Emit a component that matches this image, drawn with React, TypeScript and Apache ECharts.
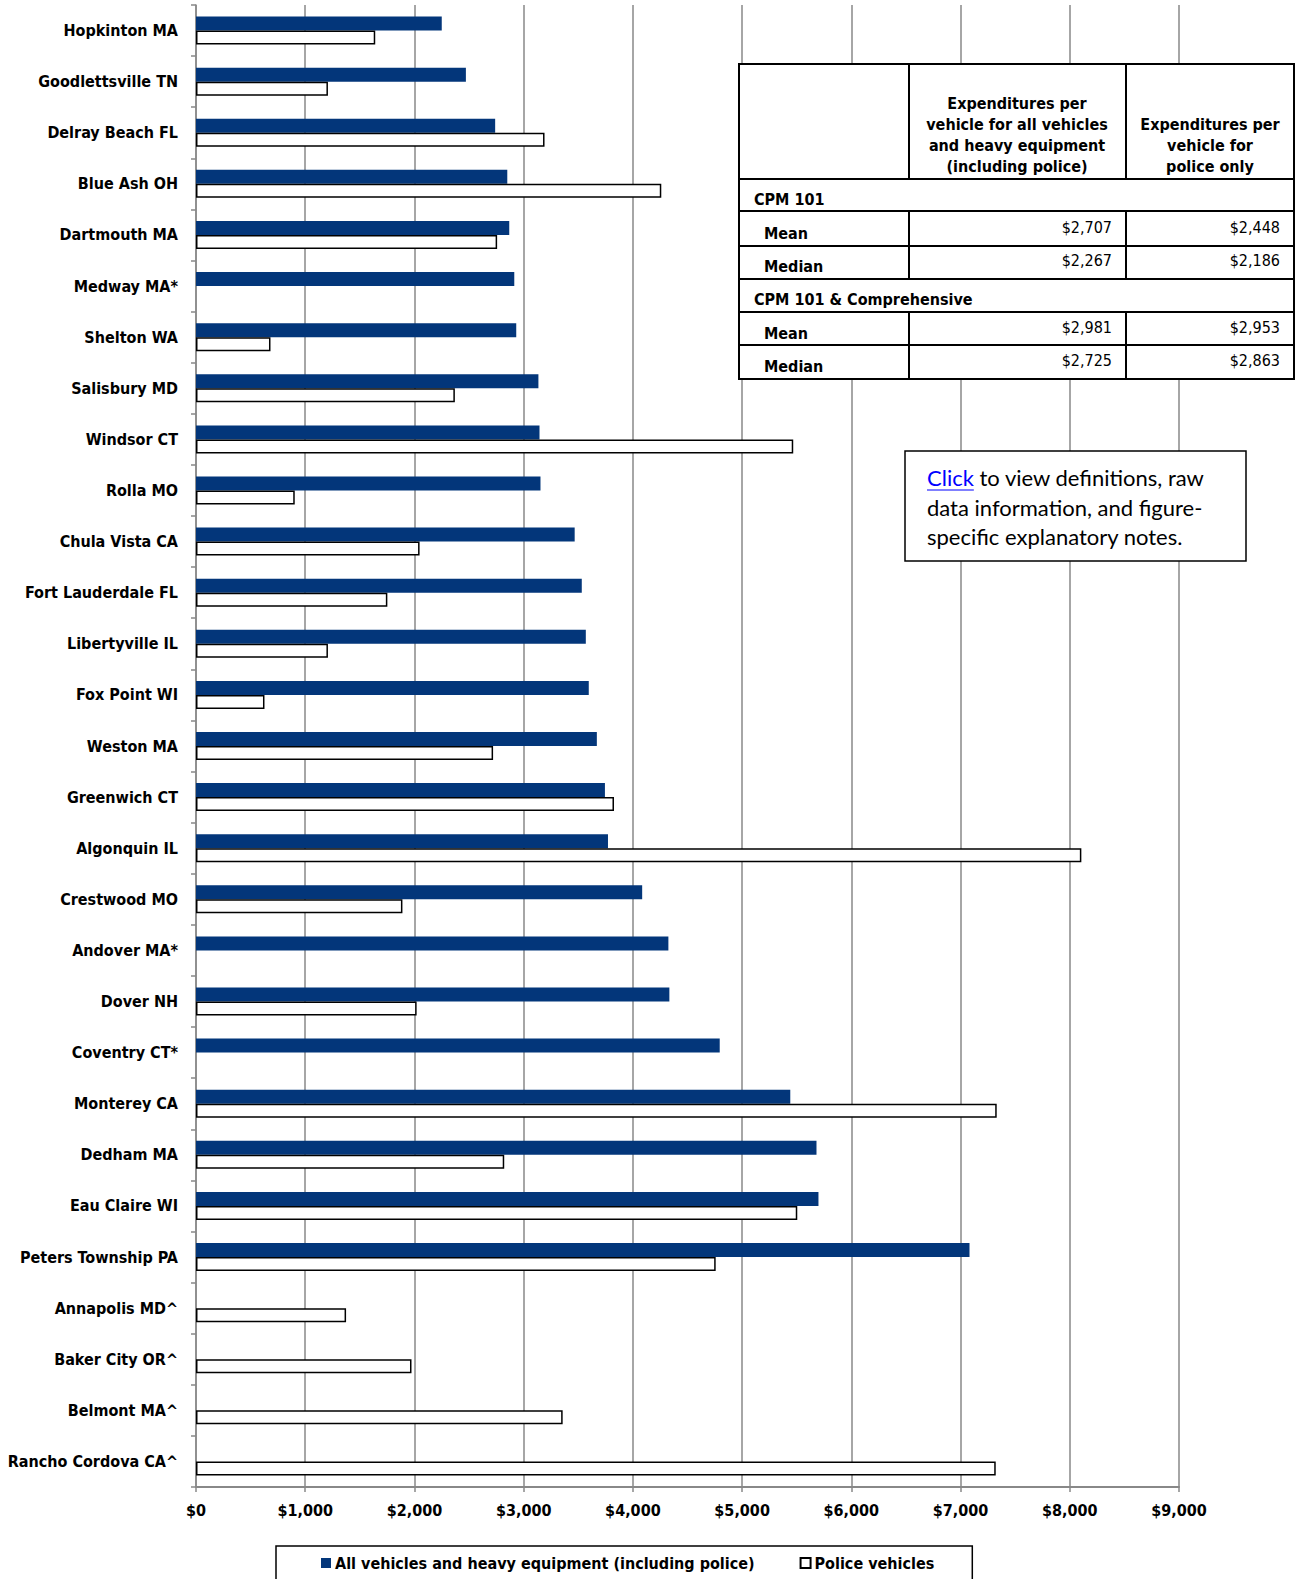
import React, { useEffect, useRef } from "react";
import * as echarts from "echarts";

const categories = [
  "Hopkinton MA", "Goodlettsville TN", "Delray Beach FL", "Blue Ash OH", "Dartmouth MA",
  "Medway MA*", "Shelton WA", "Salisbury MD", "Windsor CT", "Rolla MO",
  "Chula Vista CA", "Fort Lauderdale FL", "Libertyville IL", "Fox Point WI", "Weston MA",
  "Greenwich CT", "Algonquin IL", "Crestwood MO", "Andover MA*", "Dover NH",
  "Coventry CT*", "Monterey CA", "Dedham MA", "Eau Claire WI", "Peters Township PA",
  "Annapolis MD^", "Baker City OR^", "Belmont MA^", "Rancho Cordova CA^",
];

const allVehicles = [
  2250, 2471, 2739, 2850, 2868,
  2914, 2932, 3135, 3145, 3154,
  3467, 3532, 3569, 3596, 3670,
  3744, 3772, 4085, 4325, 4334,
  4795, 5441, 5681, 5699, 7082,
  null, null, null, null,
];

const policeVehicles = [
  1641, 1208, 3191, 4260, 2757,
  null, 682, 2370, 5468, 904,
  2047, 1752, 1208, 627, 2720,
  3827, 8106, 1890, null, 2020,
  null, 7331, 2822, 5505, 4758,
  1374, 1973, 3357, 7322,
];

const xTicks = [0, 1000, 2000, 3000, 4000, 5000, 6000, 7000, 8000, 9000];

const tableHeader1 = ["Expenditures per", "vehicle for all vehicles", "and heavy equipment", "(including police)"];
const tableHeader2 = ["Expenditures per", "vehicle for", "police only"];
const tableSections = ["CPM 101", "CPM 101 & Comprehensive"];
const tableRowLabels = ["Mean", "Median", "Mean", "Median"];
const tableCol1 = ["$2,707", "$2,267", "$2,981", "$2,725"];
const tableCol2 = ["$2,448", "$2,186", "$2,953", "$2,863"];

const noteLines = ["to view definitions, raw", "data information, and figure-", "specific explanatory notes."];

const COND = "'Liberation Sans Narrow', 'DejaVu Sans Condensed', 'Arial Narrow', sans-serif";
const NOTE_FONT = "Lato, 'Open Sans', sans-serif";
const BLUE = "#03367a";

function measure(text: string, font: string): number {
  const c = document.createElement("canvas").getContext("2d");
  if (!c) return text.length * 9;
  c.font = font;
  return c.measureText(text).width;
}

export default function App() {
  const ref = useRef<HTMLDivElement>(null);
  useEffect(() => {
    document.body.style.margin = "0";
    if (!ref.current) return;
    const chart = echarts.init(ref.current, undefined, { renderer: "svg" });

    const cols = [739, 909, 1126, 1294];
    const rows = [64, 179, 211, 246, 279, 312, 345, 379];
    const g: any[] = [];
    g.push({ type: "rect", shape: { x: cols[0], y: rows[0], width: cols[3] - cols[0], height: rows[7] - rows[0] }, style: { fill: "#fff", stroke: "#000", lineWidth: 2 }, z: 10 });
    const line = (x1: number, y1: number, x2: number, y2: number) =>
      g.push({ type: "line", shape: { x1, y1, x2, y2 }, style: { stroke: "#000", lineWidth: 2 }, z: 11 });
    for (let i = 1; i < 7; i++) line(cols[0], rows[i], cols[3], rows[i]);
    [1, 2].forEach((c) => {
      line(cols[c], rows[0], cols[c], rows[1]);
      line(cols[c], rows[2], cols[c], rows[4]);
      line(cols[c], rows[5], cols[c], rows[7]);
    });
    const txt = (text: string, x: number, y: number, align: string, bold: boolean) =>
      g.push({ type: "text", x, y, z: 12, style: { text, fill: "#000", font: `${bold ? "bold " : ""}16px ${COND}`, align, verticalAlign: "middle" } });
    const h1y = [103, 124, 145, 166];
    tableHeader1.forEach((t, i) => txt(t, 1017, h1y[i], "center", true));
    const h2y = [124, 145, 166];
    tableHeader2.forEach((t, i) => txt(t, 1210, h2y[i], "center", true));
    txt(tableSections[0], 754, 199, "left", true);
    txt(tableSections[1], 754, 299, "left", true);
    const labelY = [233, 266, 333, 366];
    const valY = [227, 260, 327, 360];
    tableRowLabels.forEach((t, i) => txt(t, 764, labelY[i], "left", true));
    tableCol1.forEach((t, i) => txt(t, 1112, valY[i], "right", false));
    tableCol2.forEach((t, i) => txt(t, 1280, valY[i], "right", false));

    g.push({ type: "rect", shape: { x: 905, y: 451, width: 341, height: 110 }, style: { fill: "#fff", stroke: "#000", lineWidth: 1.5 }, z: 10 });
    const nf = `22px ${NOTE_FONT}`;
    const clickW = measure("Click", nf);
    g.push({ type: "text", x: 927, y: 477, z: 12, style: { text: "Click", fill: "#0000ff", font: nf, align: "left", verticalAlign: "middle" } });
    g.push({ type: "line", shape: { x1: 927, y1: 490, x2: 927 + clickW, y2: 490 }, style: { stroke: "#0000ff", lineWidth: 1.2 }, z: 12 });
    g.push({ type: "text", x: 927 + clickW + measure(" ", nf), y: 477, z: 12, style: { text: noteLines[0], fill: "#000", font: nf, align: "left", verticalAlign: "middle" } });
    g.push({ type: "text", x: 927, y: 507, z: 12, style: { text: noteLines[1], fill: "#000", font: nf, align: "left", verticalAlign: "middle" } });
    g.push({ type: "text", x: 927, y: 536, z: 12, style: { text: noteLines[2], fill: "#000", font: nf, align: "left", verticalAlign: "middle" } });

    chart.setOption({
      animation: false,
      backgroundColor: "#fff",
      grid: { left: 196, right: 118, top: 5, bottom: 92, containLabel: false, outerBoundsMode: "none" },
      xAxis: {
        type: "value",
        min: xTicks[0],
        max: xTicks[xTicks.length - 1],
        interval: 1000,
        axisLine: { show: true, lineStyle: { color: "#888", width: 2 } },
        axisTick: { show: true, length: 5, lineStyle: { color: "#888", width: 1.5 } },
        splitLine: { show: true, lineStyle: { color: "#888", width: 1.5 } },
        axisLabel: {
          margin: 15,
          color: "#000",
          fontFamily: COND,
          fontWeight: "bold",
          fontSize: 16,
          formatter: (v: number) => "$" + v.toLocaleString("en-US"),
        },
      },
      yAxis: {
        type: "category",
        data: categories,
        inverse: true,
        axisLine: { show: true, lineStyle: { color: "#888", width: 1.5 } },
        axisTick: { show: true, length: 5, lineStyle: { color: "#888", width: 1.5 } },
        axisLabel: { margin: 18, color: "#000", fontFamily: COND, fontWeight: "bold", fontSize: 16 },
      },
      legend: {
        left: 276,
        top: 1546,
        padding: [9, 38, 20, 45],
        itemGap: 45,
        itemWidth: 10,
        itemHeight: 10,
        borderColor: "#000",
        borderWidth: 1.5,
        icon: "rect",
        textStyle: { color: "#000", fontFamily: COND, fontWeight: "bold", fontSize: 16, padding: [0, 0, 0, -1] },
        data: ["All vehicles and heavy equipment (including police)", "Police vehicles"],
      },
      series: [
        {
          name: "All vehicles and heavy equipment (including police)",
          type: "bar",
          data: allVehicles,
          barWidth: 14,
          barGap: "0%",
          itemStyle: { color: BLUE },
        },
        {
          name: "Police vehicles",
          type: "bar",
          data: policeVehicles,
          barWidth: 14,
          barGap: "0%",
          itemStyle: { color: "#fff", borderColor: "#000", borderWidth: 1.5 },
        },
      ],
      graphic: g,
    });
    return () => chart.dispose();
  }, []);
  return <div ref={ref} style={{ width: 1297, height: 1579 }} />;
}
